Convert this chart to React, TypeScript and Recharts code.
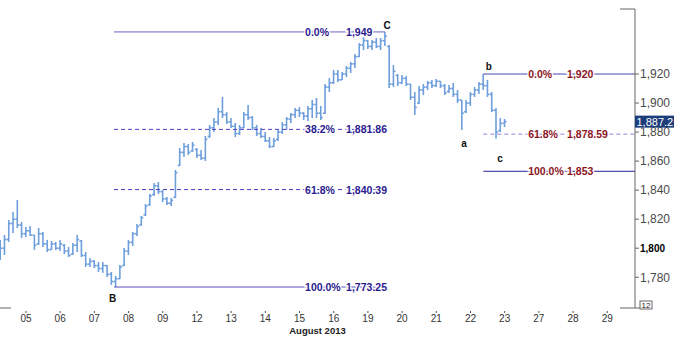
import React from 'react'
import { ComposedChart, Bar, XAxis, YAxis, ReferenceLine, ReferenceDot } from 'recharts'

// trading days shown on the axis (no bar on 26 Aug, bank holiday)
const dayLabels = ['05', '06', '07', '08', '09', '12', '13', '14', '15', '16', '19', '20', '21', '22', '23', '27', '28', '29']
const BARS_PER_DAY = 8
const FIRST_DAY_BAR = 6 // bars 0..5 are the end of Fri 02 Aug

// 3-hour OHLC bars
const opens = [
  1795, 1800, 1806, 1817, 1820, 1816, 1810, 1812, 1809, 1803,
  1810, 1803, 1799, 1803, 1800, 1802, 1798, 1796, 1802, 1805,
  1795, 1789, 1791, 1788, 1786, 1788, 1782, 1777, 1779, 1788,
  1798, 1804, 1810, 1816, 1823, 1830, 1837, 1843, 1839, 1834,
  1831, 1835, 1857, 1866, 1870, 1867, 1868, 1864, 1862, 1877,
  1883, 1887, 1894, 1892, 1887, 1884, 1879, 1883, 1892, 1890,
  1883, 1879, 1877, 1874, 1870, 1875, 1880, 1885, 1889, 1892,
  1895, 1893, 1891, 1896, 1899, 1893, 1893, 1911, 1914, 1920,
  1916, 1920, 1924, 1927, 1932, 1940, 1943, 1939, 1942, 1939,
  1943, 1939, 1913, 1919, 1914, 1917, 1913, 1904, 1900, 1909,
  1911, 1914, 1912, 1915, 1912, 1908, 1910, 1906, 1902, 1894,
  1900, 1906, 1909, 1913, 1912, 1906, 1895, 1881, 1886,
]
const highs = [
  1805.7, 1809.1, 1819.4, 1825.0, 1833.2, 1818.1, 1814.6, 1815.3, 1809.1, 1813.9,
  1811.2, 1805.7, 1805.0, 1804.3, 1805.7, 1802.9, 1800.9, 1803.6, 1809.1, 1805.7,
  1797.4, 1793.3, 1791.9, 1790.5, 1790.5, 1788.5, 1783.6, 1780.9, 1788.5, 1800.2,
  1805.7, 1811.2, 1816.7, 1822.2, 1830.5, 1837.4, 1844.9, 1845.6, 1840.1, 1835.3,
  1834.6, 1853.9, 1869.0, 1872.5, 1871.8, 1873.2, 1869.0, 1867.7, 1877.3, 1884.9,
  1889.7, 1896.6, 1904.2, 1893.8, 1889.7, 1886.3, 1884.9, 1893.8, 1898.6, 1891.1,
  1884.9, 1882.8, 1880.1, 1876.6, 1875.9, 1881.4, 1886.9, 1890.4, 1893.1, 1896.6,
  1897.3, 1893.8, 1898.0, 1902.1, 1903.5, 1898.0, 1913.1, 1917.2, 1922.8, 1922.8,
  1921.4, 1925.5, 1928.3, 1933.8, 1941.3, 1945.5, 1943.4, 1943.4, 1944.8, 1944.8,
  1949.0, 1940.0, 1926.2, 1920.0, 1919.3, 1918.6, 1913.1, 1907.6, 1911.7, 1913.1,
  1915.2, 1915.9, 1916.6, 1915.2, 1913.1, 1912.4, 1913.8, 1909.0, 1902.1, 1902.1,
  1907.6, 1911.0, 1914.5, 1920.0, 1915.9, 1907.6, 1896.6, 1889.7, 1889.0,
]
const lows = [
  1791.9, 1795.3, 1804.3, 1810.5, 1813.9, 1807.1, 1807.7, 1808.4, 1798.8, 1802.2,
  1800.9, 1797.4, 1798.8, 1798.8, 1798.1, 1796.0, 1793.9, 1795.3, 1797.4, 1793.9,
  1787.1, 1787.1, 1786.4, 1783.6, 1783.0, 1780.2, 1774.7, 1773.25, 1778.8, 1787.8,
  1795.3, 1801.5, 1808.4, 1815.3, 1822.2, 1829.1, 1836.0, 1837.4, 1831.8, 1829.8,
  1829.1, 1834.6, 1856.6, 1862.8, 1864.2, 1866.3, 1862.1, 1860.8, 1860.1, 1875.9,
  1880.1, 1884.9, 1889.7, 1885.6, 1882.8, 1876.6, 1878.0, 1882.8, 1888.3, 1881.4,
  1877.3, 1875.9, 1873.2, 1869.0, 1869.7, 1873.9, 1878.7, 1881.4, 1886.3, 1889.7,
  1890.4, 1888.3, 1887.6, 1889.7, 1889.7, 1888.3, 1892.5, 1907.6, 1913.1, 1914.5,
  1915.9, 1917.9, 1920.7, 1924.1, 1931.7, 1936.5, 1937.2, 1936.5, 1937.9, 1936.5,
  1939.3, 1910.4, 1911.0, 1911.7, 1913.1, 1911.7, 1902.1, 1891.8, 1899.3, 1905.5,
  1909.0, 1910.4, 1911.0, 1910.4, 1905.5, 1906.9, 1904.2, 1900.0, 1881.4, 1893.1,
  1898.0, 1904.2, 1906.2, 1909.0, 1904.2, 1893.8, 1875.5, 1880.1, 1883.5,
]
const closes = [
  1800, 1806, 1817, 1820, 1816, 1810, 1812, 1809, 1802, 1810,
  1803, 1799, 1803, 1800, 1803, 1798, 1795, 1802, 1806, 1795,
  1789, 1791, 1788, 1786, 1788, 1782, 1777, 1779, 1787, 1798,
  1804, 1810, 1815, 1821, 1829, 1836, 1843, 1839, 1834, 1831,
  1833, 1852, 1866, 1870, 1866, 1871, 1864, 1862, 1875, 1883,
  1887, 1894, 1892, 1887, 1884, 1879, 1883, 1892, 1890, 1883,
  1879, 1877, 1874, 1870, 1874, 1880, 1885, 1889, 1892, 1895,
  1893, 1891, 1896, 1899, 1893, 1890, 1911, 1914, 1920, 1916,
  1920, 1924, 1927, 1932, 1940, 1943, 1939, 1942, 1939, 1943,
  1946, 1913, 1922, 1914, 1917, 1913, 1904, 1897, 1909, 1911,
  1914, 1912, 1915, 1912, 1907, 1910, 1906, 1902, 1893, 1900,
  1906, 1909, 1913, 1912, 1906, 1895, 1880, 1886, 1887.2,
]

const yTicks = [1780, 1800, 1820, 1840, 1860, 1880, 1900, 1920]

// Fibonacci B -> C (blue labels)
const fibAPct = ['0.0%', '38.2%', '61.8%', '100.0%']
const fibALevels = [1949, 1881.86, 1840.39, 1773.25]
// Fibonacci projection from b (red labels)
const fibBPct = ['0.0%', '61.8%', '100.0%']
const fibBLevels = [1920, 1878.59, 1853]

// wave labels: name, bar index, which end of the bar
const waveNames = ['B', 'C', 'a', 'b', 'c']
const waveBars = [27, 90, 108, 113, 116]
const waveEnds = ['low', 'high', 'low', 'high', 'low']

const X_DOMAIN: [number, number] = [-0.08, 148.49]
const Y_DOMAIN: [number, number] = [1758.8, 1964.8]
const lastClose = closes[closes.length - 1]

const rows = opens.map((o, i) => ({ i, open: o, high: highs[i], low: lows[i], close: closes[i] }))
const dayTicks = dayLabels.map((_, k) => FIRST_DAY_BAR + k * BARS_PER_DAY)

const fmt = (v: number) => v.toLocaleString('en-US')
const FONT = '"Liberation Sans", Arial, sans-serif'

const OhlcBar = (props: any) => {
  const { x, y, width, height, payload } = props
  if (x == null || y == null) return null
  const top = Math.min(y, y + height)
  const bot = Math.max(y, y + height)
  const { open, high, low, close } = payload
  const py = (v: number) => top + ((high - v) / (high - low)) * (bot - top)
  const cx = x + width / 2
  return (
    <g stroke="#6e9fdc" strokeWidth={1.6}>
      <line x1={cx} x2={cx} y1={top} y2={bot} />
      <line x1={cx - 2} x2={cx} y1={py(open)} y2={py(open)} />
      <line x1={cx} x2={cx + 2} y1={py(close)} y2={py(close)} />
    </g>
  )
}

const DayTick = (props: any) => {
  const { x, y, payload } = props
  const label = dayLabels[(payload.value - FIRST_DAY_BAR) / BARS_PER_DAY]
  return (
    <g>
      <line x1={x} x2={x} y1={y + 3} y2={y + 5} stroke="#555" />
      <text x={x} y={y + 14} textAnchor="middle" fontSize={10} fill="#333" fontFamily={FONT}>{label}</text>
    </g>
  )
}

const PriceTick = (props: any) => {
  const { x, y, payload } = props
  const v = payload.value
  if (v === lastClose) {
    return (
      <g>
        <rect x={x - 5} y={y - 6} width={39} height={12} fill="#1c3c7a" />
        <text x={x - 3.5} y={y} dy="0.36em" fontSize={11} fill="#fff" fontFamily={FONT}>{fmt(v)}</text>
      </g>
    )
  }
  const bold = v === 1800
  return (
    <text x={x} y={y} dy="0.36em" fontSize={bold ? 10 : 12} fontWeight={bold ? 'bold' : 'normal'}
      fill={bold ? '#000' : '#4a4a4a'} fontFamily={FONT}>{fmt(v)}</text>
  )
}

const fibText = (text: string, color: string) => (p: any) => (
  <text x={p.cx} y={p.cy} dominantBaseline="central" fontSize={10.5} fontWeight="bold" fill={color}
    stroke="#fff" strokeWidth={2.5} paintOrder="stroke" fontFamily={FONT}>{text}</text>
)

// small pixel nudges for the wave letters
const waveNudge: Record<string, [number, number]> = {
  B: [-3, 11], C: [2, -6], a: [2, 13], b: [5.5, -8], c: [4, 20],
}

export default function App() {
  return (
    <div style={{ position: 'absolute', left: 0, top: 0, background: '#fff' }}>
      <ComposedChart width={683} height={339} data={rows} margin={{ top: 9, right: 0, bottom: 0, left: 0 }}>
        <XAxis
          dataKey="i" type="number" domain={X_DOMAIN} allowDataOverflow ticks={dayTicks} interval={0}
          axisLine={false} tickLine={false} tickSize={0} tickMargin={0} height={31} tick={<DayTick />}
          label={{ value: 'August 2013', position: 'insideBottom', offset: 5, fontSize: 9.5, fontWeight: 'bold', fill: '#222', fontFamily: FONT }}
        />
        <YAxis
          orientation="right" width={48} domain={Y_DOMAIN} allowDataOverflow ticks={[...yTicks, lastClose]} interval={0}
          axisLine={{ stroke: '#666' }} tickLine={{ stroke: '#666' }} tickSize={4} tickMargin={1} tick={<PriceTick />}
        />
        <Bar dataKey={(d: any) => [d.low, d.high]} barSize={4} shape={<OhlcBar />} isAnimationActive={false} />

        {fibALevels.map((lv, k) => (
          <ReferenceLine key={'fa' + k} segment={[{ x: waveBars[0] - 0.4, y: lv }, { x: waveBars[1], y: lv }]}
            stroke={k === 0 ? '#6a60c8' : k === 3 ? '#5a50c0' : '#4a3cc4'} strokeDasharray={k === 0 || k === 3 ? undefined : '4 3'} />
        ))}
        {fibBLevels.map((lv, k) => (
          <ReferenceLine key={'fb' + k} segment={[{ x: waveBars[3], y: lv }, { x: X_DOMAIN[1], y: lv }]}
            stroke={k === 0 ? '#4646b8' : k === 1 ? '#9a7fe0' : '#24249a'} strokeDasharray={k === 1 ? '4 3' : undefined} />
        ))}

        {fibALevels.map((lv, k) => (
          <ReferenceDot key={'fap' + k} x={71.3} y={lv} r={0} shape={fibText(fibAPct[k], '#2b1a8f')} />
        ))}
        {fibALevels.map((lv, k) => (
          <ReferenceDot key={'fav' + k} x={80.9} y={lv} r={0} shape={fibText(fmt(lv), '#2b1a8f')} />
        ))}
        {fibBLevels.map((lv, k) => (
          <ReferenceDot key={'fbp' + k} x={123.5} y={lv} r={0} shape={fibText(fibBPct[k], '#8b1424')} />
        ))}
        {fibBLevels.map((lv, k) => (
          <ReferenceDot key={'fbv' + k} x={132.6} y={lv} r={0} shape={fibText(fmt(lv), '#8b1424')} />
        ))}

        {waveNames.map((n, k) => {
          const b = waveBars[k]
          const yv = waveEnds[k] === 'high' ? highs[b] : lows[b]
          const [dx, dy] = waveNudge[n]
          return (
            <ReferenceDot key={n} x={b} y={yv} r={0} shape={(p: any) => (
              <text x={p.cx + dx} y={p.cy + dy} textAnchor="middle" dominantBaseline="central"
                fontSize={10} fontWeight="bold" fill="#111" fontFamily={FONT}>{n}</text>
            )} />
          )
        })}

        <g stroke="#666">
          <line x1={620} x2={635} y1={9} y2={9} />
          <line x1={620} x2={640} y1={308} y2={308} />
          <line x1={0} x2={11} y1={308} y2={308} />
          <rect x={640} y={301} width={12} height={8} fill="#fff" />
        </g>
        <text x={646} y={308} textAnchor="middle" fontSize={8} fill="#222" fontFamily={FONT}>12</text>
      </ComposedChart>
    </div>
  )
}
